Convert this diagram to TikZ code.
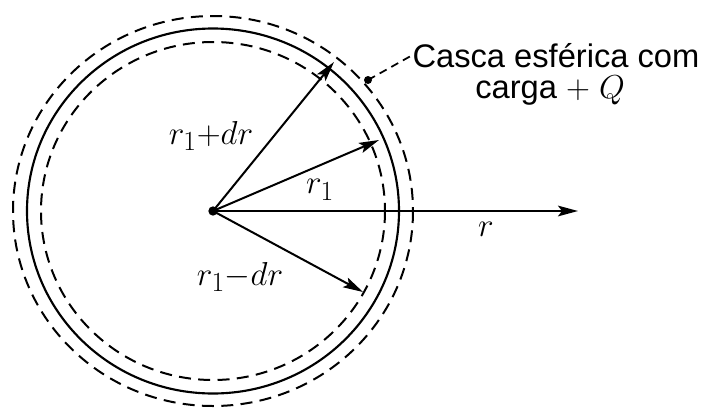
\documentclass[tikz,border=0pt]{standalone}
\usepackage{fontspec}
\setsansfont{Liberation Sans}
\usetikzlibrary{arrows.meta}
\tikzset{
  shell/.style={line width=1.6pt},
  dshell/.style={line width=1.5pt, dash pattern=on 9pt off 5.5pt},
  vec/.style={line width=1.5pt, -{Stealth[length=15pt,width=8pt,inset=3pt]}},
  lbl/.style={inner sep=0pt, font=\fontsize{30}{32}\selectfont},
  note/.style={inner sep=0pt, font=\sffamily\fontsize{24.5}{26}\selectfont},
}
\begin{document}
\begin{tikzpicture}[x=0.75pt,y=-0.75pt]
\useasboundingbox (0,0) rectangle (704,415);
\node (O) at (213,211) [circle, fill, inner sep=0pt, minimum size=7pt] {};
\draw[dshell] (O.center) ellipse [x radius=200, y radius=195];
\draw[shell] (O.center) ellipse [x radius=186, y radius=182.5];
\draw[dshell] (O.center) ellipse [x radius=172, y radius=169];
\coordinate (tA) at (334,62);
\coordinate (tB) at (379,140);
\coordinate (tC) at (363,292);
\coordinate (tR) at (578,211);
\draw[vec] (O.center) -- (tA);
\draw[vec] (O.center) -- (tB);
\draw[vec] (O.center) -- (tC);
\draw[vec] (O.center) -- (tR);
\node[lbl] (lA) at (211,136) {$r_1{+}dr$};
\node[lbl] (lB) at (320,190) {$r_1$};
\node[lbl] (lC) at (240,277) {$r_1{-}dr$};
\node[lbl] (lR) at (486,229) {$r$};
\coordinate (dot) at (368,80);
\fill (dot) circle[radius=4];
\node[note, anchor=base] (n1) at (556,67) {Casca esférica com};
\node[note, anchor=base] (n2) at (550,98) {carga $+$ $Q$};
\draw[line width=1.3pt, dash pattern=on 6pt off 4pt] (dot) -- (n1.west);
\end{tikzpicture}
\end{document}
